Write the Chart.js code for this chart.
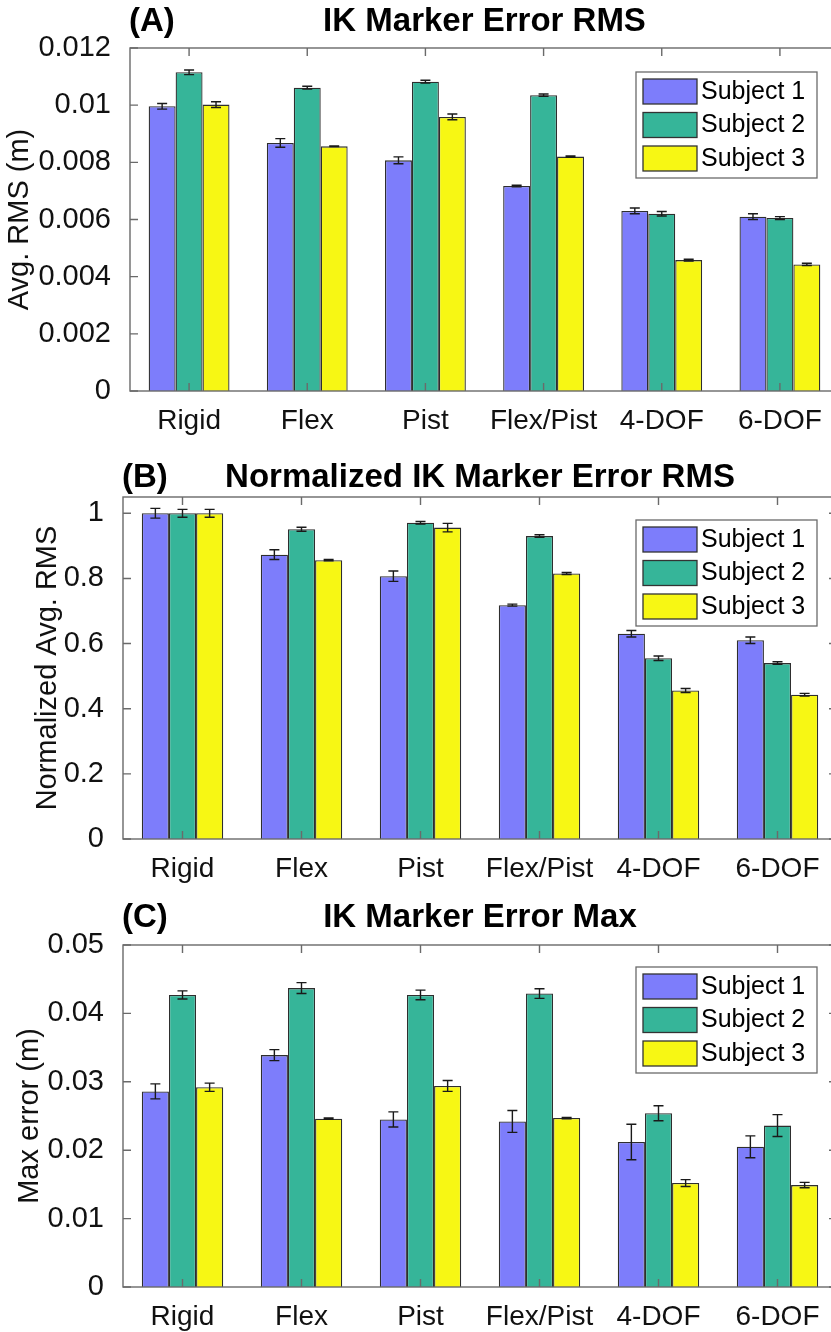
<!DOCTYPE html>
<html>
<head>
<meta charset="utf-8">
<script src="https://cdn.jsdelivr.net/npm/chart.js@4.4.1/dist/chart.umd.min.js"></script>
<style>
  html, body { margin: 0; padding: 0; background: #fff; overflow: hidden; }
  #wrap { position: relative; width: 831px; height: 1332px; overflow: hidden; }
  canvas { position: absolute; left: 0; }
</style>
</head>
<body>
<div id="wrap">
  <canvas id="chartA" width="842" height="444" style="top:0px"></canvas>
  <canvas id="chartB" width="842" height="444" style="top:444px"></canvas>
  <canvas id="chartC" width="842" height="444" style="top:888px"></canvas>
</div>
<script>
// ---- data ----
const categories = ['Rigid', 'Flex', 'Pist', 'Flex/Pist', '4-DOF', '6-DOF'];
const subjects = ['Subject 1', 'Subject 2', 'Subject 3'];
const colors = ['#7d7dfb', '#36b599', '#f7f714'];

// (A) IK marker error RMS (m)
const rmsS1 = [0.00996, 0.00868, 0.00807, 0.00717, 0.0063, 0.0061];
const rmsS2 = [0.01115, 0.01061, 0.01082, 0.01035, 0.0062, 0.00605];
const rmsS3 = [0.01002, 0.00856, 0.00959, 0.0082, 0.00458, 0.00443];
const rmsErrS1 = [0.0001, 0.00015, 0.00012, 0.00003, 0.0001, 0.0001];
const rmsErrS2 = [0.00008, 0.00005, 0.00005, 0.00004, 0.00008, 0.00005];
const rmsErrS3 = [0.0001, 0.00001, 0.0001, 0.00002, 0.00003, 0.00004];
const rmsTicks = [0, 0.002, 0.004, 0.006, 0.008, 0.01, 0.012];

// (B) normalized RMS
const normS1 = [1.0, 0.873, 0.807, 0.718, 0.63, 0.61];
const normS2 = [1.0, 0.951, 0.971, 0.93, 0.555, 0.54];
const normS3 = [1.0, 0.856, 0.956, 0.815, 0.456, 0.443];
const normErrS1 = [0.015, 0.015, 0.016, 0.003, 0.01, 0.01];
const normErrS2 = [0.012, 0.006, 0.004, 0.004, 0.007, 0.004];
const normErrS3 = [0.012, 0.002, 0.013, 0.003, 0.006, 0.004];
const normTicks = [0, 0.2, 0.4, 0.6, 0.8, 1];

// (C) max error (m)
const maxS1 = [0.0286, 0.0339, 0.0245, 0.0242, 0.0212, 0.0205];
const maxS2 = [0.0427, 0.0437, 0.0427, 0.0429, 0.0254, 0.0236];
const maxS3 = [0.0292, 0.0246, 0.0294, 0.0247, 0.0152, 0.0149];
const maxErrS1 = [0.0011, 0.0008, 0.0011, 0.0016, 0.0026, 0.0016];
const maxErrS2 = [0.0006, 0.0008, 0.0007, 0.0007, 0.0011, 0.0016];
const maxErrS3 = [0.0006, 0.0001, 0.0008, 0.0001, 0.0005, 0.0004];
const maxTicks = [0, 0.01, 0.02, 0.03, 0.04, 0.05];

const FONT = "'Liberation Sans', Arial, Helvetica, sans-serif";
Chart.defaults.font.family = FONT;
Chart.defaults.color = '#1a1a1a';

// error bars, placed with the y scale of each chart
const errorBars = {
  id: 'errorBars',
  afterDatasetsDraw(chart, args, opts) {
    const { ctx, scales: { y } } = chart;
    ctx.save();
    ctx.strokeStyle = '#1a1a1a';
    ctx.lineWidth = 1.4;
    chart.data.datasets.forEach((ds, i) => {
      const meta = chart.getDatasetMeta(i);
      meta.data.forEach((bar, j) => {
        const v = ds.data[j], e = opts.errors[i][j];
        const yt = y.getPixelForValue(v + e), yb = y.getPixelForValue(v - e);
        const x = bar.x, cap = 5;
        ctx.beginPath();
        ctx.moveTo(x, yt); ctx.lineTo(x, yb);
        ctx.moveTo(x - cap, yt); ctx.lineTo(x + cap, yt);
        ctx.moveTo(x - cap, yb); ctx.lineTo(x + cap, yb);
        ctx.stroke();
      });
    });
    ctx.restore();
  }
};

// matlab style box with inward ticks on all sides
const boxAxes = {
  id: 'boxAxes',
  afterDatasetsDraw(chart) {
    const { ctx, chartArea: a, scales: { x, y } } = chart;
    ctx.save();
    ctx.strokeStyle = '#6a6a6a';
    ctx.lineWidth = 1.4;
    ctx.strokeRect(a.left, a.top, a.right - a.left, a.bottom - a.top);
    ctx.beginPath();
    x.ticks.forEach((t, k) => {
      const px = x.getPixelForTick(k);
      ctx.moveTo(px, a.top); ctx.lineTo(px, a.top + 8);
      ctx.moveTo(px, a.bottom); ctx.lineTo(px, a.bottom - 8);
    });
    y.ticks.forEach((t, k) => {
      const py = y.getPixelForTick(k);
      ctx.moveTo(a.left, py); ctx.lineTo(a.left + 8, py);
      ctx.moveTo(a.right, py); ctx.lineTo(a.right - 8, py);
    });
    ctx.stroke();
    ctx.restore();
  }
};

const panelTitle = {
  id: 'panelTitle',
  afterDraw(chart, args, opts) {
    const { ctx, chartArea: a } = chart;
    ctx.save();
    ctx.fillStyle = '#000';
    ctx.textBaseline = 'middle';
    ctx.font = 'bold 33px ' + FONT;
    ctx.textAlign = 'left';
    ctx.fillText(opts.label, a.left - 1, opts.y);
    ctx.textAlign = 'center';
    ctx.fillText(opts.text, (a.left + a.right) / 2, opts.y);
    ctx.restore();
  }
};

const boxLegend = {
  id: 'boxLegend',
  afterDraw(chart, args, opts) {
    const { ctx, chartArea: a } = chart;
    const left = opts.left, top = a.top + opts.top;
    const w = 181, rowH = 33.5, h = 106;
    ctx.save();
    ctx.fillStyle = '#fff';
    ctx.fillRect(left, top, w, h);
    ctx.strokeStyle = '#6a6a6a';
    ctx.lineWidth = 1.3;
    ctx.strokeRect(left, top, w, h);
    ctx.font = '25px ' + FONT;
    ctx.textBaseline = 'middle';
    ctx.textAlign = 'left';
    chart.data.datasets.forEach((ds, i) => {
      const sy = top + 7 + rowH * i;
      ctx.fillStyle = ds.backgroundColor;
      ctx.fillRect(left + 7, sy, 54, 25);
      ctx.strokeStyle = '#333';
      ctx.strokeRect(left + 7, sy, 54, 25);
      ctx.fillStyle = '#000';
      ctx.fillText(ds.label, left + 65, sy + 13);
    });
    ctx.restore();
  }
};

function makePanel(id, cfg) {
  const series = cfg.values.map((vals, i) => ({
    label: subjects[i],
    data: vals,
    backgroundColor: colors[i],
    borderColor: '#2e2e2e',
    borderWidth: 1.3,
    categoryPercentage: 0.684,
    barPercentage: 1.0
  }));
  return new Chart(document.getElementById(id), {
    type: 'bar',
    data: { labels: categories, datasets: series },
    options: {
      responsive: false,
      animation: false,
      layout: { padding: { top: cfg.top, right: 842 - cfg.right, left: 0, bottom: 0 } },
      plugins: {
        legend: { display: false },
        tooltip: { enabled: false },
        errorBars: { errors: cfg.errors },
        panelTitle: { label: cfg.label, text: cfg.title, y: cfg.titleY },
        boxLegend: { left: 636, top: cfg.legendTop }
      },
      scales: {
        x: {
          grid: { display: false },
          border: { display: false },
          ticks: { font: { size: 28 }, padding: 5, color: '#111', maxRotation: 0, autoSkip: false },
          afterFit: s => { s.height = 444 - cfg.bottom; }
        },
        y: {
          min: 0,
          max: cfg.max,
          grid: { display: false },
          border: { display: false },
          afterBuildTicks: s => { s.ticks = cfg.ticks.map(v => ({ value: v })); },
          ticks: {
            font: { size: 29 }, padding: 11, color: '#111',
            callback: v => String(+(+v).toFixed(4))
          },
          title: {
            display: true, text: cfg.yTitle,
            font: { size: 29 }, color: '#111',
            padding: { top: cfg.yTitlePad, bottom: 0 }
          },
          afterFit: s => { s.width = cfg.left; }
        }
      }
    },
    plugins: [errorBars, boxAxes, boxLegend, panelTitle]
  });
}

makePanel('chartA', {
  values: [rmsS1, rmsS2, rmsS3],
  errors: [rmsErrS1, rmsErrS2, rmsErrS3],
  ticks: rmsTicks, max: 0.012,
  top: 48, bottom: 391, left: 130, right: 839,
  label: '(A)', title: 'IK Marker Error RMS', titleY: 22,
  yTitle: 'Avg. RMS (m)', yTitlePad: 3, legendTop: 24
});

makePanel('chartB', {
  values: [normS1, normS2, normS3],
  errors: [normErrS1, normErrS2, normErrS3],
  ticks: normTicks, max: 1.05,
  top: 53, bottom: 395, left: 123, right: 837,
  label: '(B)', title: 'Normalized IK Marker Error RMS', titleY: 34,
  yTitle: 'Normalized Avg. RMS', yTitlePad: 31, legendTop: 23
});

makePanel('chartC', {
  values: [maxS1, maxS2, maxS3],
  errors: [maxErrS1, maxErrS2, maxErrS3],
  ticks: maxTicks, max: 0.05,
  top: 57, bottom: 399, left: 123, right: 837,
  label: '(C)', title: 'IK Marker Error Max', titleY: 30,
  yTitle: 'Max error (m)', yTitlePad: 13, legendTop: 22
});
</script>
</body>
</html>
